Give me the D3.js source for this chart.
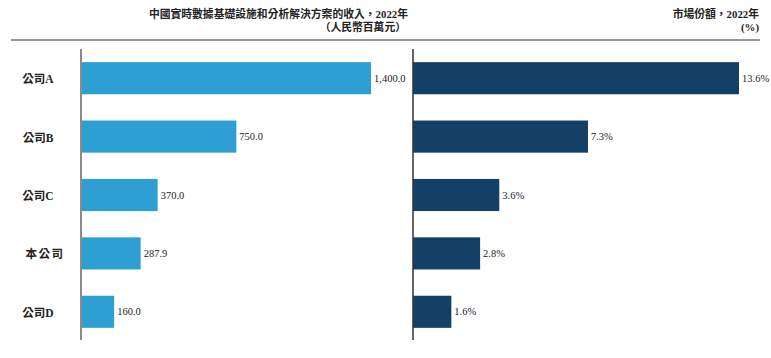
<!DOCTYPE html>
<html><head><meta charset="utf-8">
<script src="https://cdn.jsdelivr.net/npm/d3@7"></script>
<style>body{margin:0;background:#fff}svg{display:block}</style>
</head><body>
<svg id="c" width="771" height="358"></svg>
<script>
const categories = ["公司A","公司B","公司C","本公司","公司D"];
const revenue = [1400.0, 750.0, 370.0, 287.9, 160.0];
const share = [13.6, 7.3, 3.6, 2.8, 1.6];
const revenueLabels = ["1,400.0","750.0","370.0","287.9","160.0"];
const shareLabels = ["13.6%","7.3%","3.6%","2.8%","1.6%"];
const leftTitle = ["中國實時數據基礎設施和分析解決方案的收入，2022年","（人民幣百萬元）"];
const rightTitle = ["市場份額，2022年","(%)"];

const svg = d3.select("#c");
const serif = "'Liberation Serif','Times New Roman','Noto Sans CJK TC',serif";

const y = d3.scaleBand().domain(categories).range([49, 341]).paddingInner(0.45).paddingOuter(0.225);
const xL = d3.scaleLinear().domain([0, 1400]).range([81, 371]);
const xR = d3.scaleLinear().domain([0, 13.6]).range([413, 739]);

// top rule
svg.append("line").attr("x1",11).attr("x2",760).attr("y1",40).attr("y2",40)
  .attr("stroke","#999").attr("stroke-width",2);

// titles
const tl = svg.append("text").attr("text-anchor","end").attr("font-family",serif)
  .attr("font-weight","bold").attr("font-size",10.8).attr("fill","#222");
tl.append("tspan").attr("x",408).attr("y",18).text(leftTitle[0]);
tl.append("tspan").attr("x",406).attr("y",31).text(leftTitle[1]);
const tr = svg.append("text").attr("text-anchor","end").attr("font-family",serif)
  .attr("font-weight","bold").attr("font-size",10.8).attr("fill","#222");
tr.append("tspan").attr("x",759).attr("y",18).text(rightTitle[0]);
tr.append("tspan").attr("x",759).attr("y",31).text(rightTitle[1]);

// left bars
svg.selectAll(".bl").data(categories).join("rect")
  .attr("x", xL(0)).attr("y", d=>y(d)).attr("height", y.bandwidth())
  .attr("width", (d,i)=>xL(revenue[i])-xL(0)).attr("fill","#2e9fd3");
svg.selectAll(".vl").data(categories).join("text")
  .attr("x",(d,i)=>xL(revenue[i])+3).attr("y",d=>y(d)+y.bandwidth()/2)
  .attr("dy","0.35em").attr("font-family",serif).attr("font-size",10.5).attr("fill","#1c1c2a")
  .text((d,i)=>revenueLabels[i]);

// right bars
svg.selectAll(".br").data(categories).join("rect")
  .attr("x", xR(0)).attr("y", d=>y(d)).attr("height", y.bandwidth())
  .attr("width", (d,i)=>xR(share[i])-xR(0)).attr("fill","#143f66");
svg.selectAll(".vr").data(categories).join("text")
  .attr("x",(d,i)=>xR(share[i])+3).attr("y",d=>y(d)+y.bandwidth()/2)
  .attr("dy","0.35em").attr("font-family",serif).attr("font-size",10.5).attr("fill","#1c1c2a")
  .text((d,i)=>shareLabels[i]);

// category labels
svg.selectAll(".cl").data(categories).join("text")
  .attr("x",d=>d==="本公司"?45:38).attr("y",d=>y(d)+y.bandwidth()/2+1).attr("dy","0.35em")
  .attr("text-anchor","middle").attr("font-family",serif).attr("font-weight","bold")
  .attr("font-size",11.5).attr("fill","#222")
  .attr("letter-spacing",d=>d==="本公司"?1.5:0)
  .text(d=>d);

// axes lines
svg.append("line").attr("x1",81).attr("x2",81).attr("y1",49).attr("y2",340)
  .attr("stroke","#8a8a8a").attr("stroke-width",2);
svg.append("line").attr("x1",413).attr("x2",413).attr("y1",49).attr("y2",340)
  .attr("stroke","#333").attr("stroke-width",1.5);
</script>
</body></html>
